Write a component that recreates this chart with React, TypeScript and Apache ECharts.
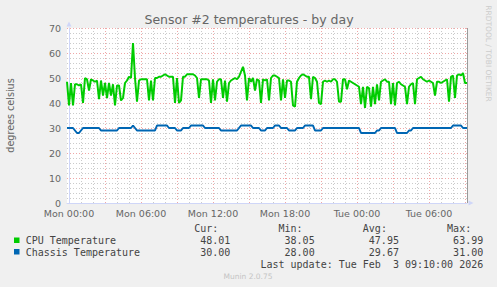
import React, { useEffect, useRef } from 'react';
import * as echarts from 'echarts';

// ---- data (5‑minute RRD samples read at 10‑minute spacing) ----
const startMinute = -10; // minutes relative to Mon 00:00 (Sun 23:50)
const stepMinutes = 10;
const endMinute = 1990; // Tue 09:10 (last update)

const cpuTemps = [
  48.5, 39, 48, 39, 47.5, 47.5, 47, 47.5, 40, 50,
  49.5, 45, 49.5, 49, 48.5, 49, 41.5, 49, 43, 48,
  42, 48, 43, 47.5, 39, 47, 47, 41, 42, 48,
  49, 50.5, 50, 64, 50, 40.5, 49, 49.5, 49.5, 49.5,
  49.5, 41, 49, 41, 50, 50, 50.5, 50.5, 51, 51.5,
  51, 50.5, 50.5, 50.5, 40, 50, 40, 41, 50.5, 50.5,
  51.5, 51.5, 51.5, 51.5, 51, 50, 42, 49.5, 49.5, 49.5,
  49.5, 49, 40, 49.5, 41, 48.5, 49.5, 49.5, 42, 49,
  40.5, 48, 49, 49.5, 50, 49.5, 50.5, 52.5, 54.5, 51,
  41, 50, 48.5, 50, 45, 49.5, 49, 40, 49.5, 49,
  49.5, 41, 50, 51, 51, 50.5, 50, 41, 49.5, 42,
  49, 49, 48.5, 39, 38.5, 48.5, 50, 51, 51.5, 51,
  50.5, 50.5, 41.5, 50.5, 50, 48.5, 40, 39.5, 48.5, 49,
  48.5, 49, 48.5, 49.5, 49.5, 48.5, 40.5, 40.5, 49.5, 49.5,
  45.5, 49, 48.5, 48, 47.5, 47, 46.5, 39.5, 46.5, 38,
  46.5, 46, 38.5, 46.5, 39.5, 47.5, 41, 48.5, 49, 49.5,
  48.5, 48.5, 39.5, 48, 39, 48, 48.5, 47.5, 47, 46.5,
  39.5, 46.5, 47.5, 48, 39.5, 49.5, 50, 50.5, 49.5, 49,
  48.5, 49, 48.5, 48, 43, 48.5, 48.5, 48, 48.5, 49,
  49.5, 40.5, 50.5, 51, 42, 51, 51.5, 51, 52, 48,
  48,
];

const chassisTemps = [
  30, 30, 30, 30, 29, 28, 28, 29, 30, 30,
  30, 30, 30, 30, 30, 30, 30, 29, 29, 29,
  29, 29, 29, 29, 29, 29, 30, 30, 30, 30,
  30, 30, 30, 31, 30, 29, 29, 29, 29, 29,
  29, 29, 29, 29, 29, 31, 31, 31, 31, 31,
  31, 30, 30, 30, 30, 29, 29, 29, 30, 30,
  30, 30, 31, 31, 31, 31, 31, 31, 31, 30,
  30, 30, 30, 30, 30, 30, 30, 29, 29, 29,
  29, 29, 29, 29, 29, 29, 30, 31, 31, 31,
  31, 31, 31, 30, 30, 30, 30, 29, 29, 29,
  30, 30, 30, 30, 31, 31, 31, 30, 30, 30,
  30, 29, 29, 29, 29, 30, 30, 30, 30, 31,
  31, 31, 31, 31, 29, 29, 29, 29, 30, 30,
  30, 30, 30, 30, 30, 30, 30, 30, 30, 30,
  30, 30, 30, 30, 30, 30, 30, 28, 28, 28,
  28, 28, 28, 28, 28, 29, 29, 30, 30, 30,
  30, 30, 30, 30, 30, 28, 28, 28, 28, 28,
  28, 29, 29, 30, 30, 30, 30, 30, 30, 30,
  30, 30, 30, 30, 30, 30, 30, 30, 30, 30,
  30, 30, 30, 31, 31, 31, 31, 31, 30, 30,
  30,
];

const xTickLabels = ['Mon 00:00', 'Mon 06:00', 'Mon 12:00', 'Mon 18:00', 'Tue 00:00', 'Tue 06:00'];
const xLabelEveryMinutes = 360;
const yMin = 0;
const yMax = 70;
const yStep = 10;

const seriesNames = ['CPU Temperature', 'Chassis Temperature'];
const seriesColors = ['#00CC00', '#0066B3'];
const statHeaders = ['Cur:', 'Min:', 'Avg:', 'Max:'];
const cpuStats = ['48.01', '38.05', '47.95', '63.99'];
const chassisStats = ['30.00', '28.00', '29.67', '31.00'];
const titleText = 'Sensor #2 temperatures - by day';
const yAxisTitle = 'degrees celsius';
const lastUpdateText = 'Last update: Tue Feb  3 09:10:00 2026';
const watermarkText = 'RRDTOOL / TOBI OETIKER';
const footerText = 'Munin 2.0.75';

// ---- styles ----
const W = 497;
const H = 287;
const FONT = '"DejaVu Sans", sans-serif';
const MONO = '"DejaVu Sans Mono", monospace';
const TEXT_COLOR = '#666666';
const LEGEND_COLOR = '#444444';
const MAJOR_GRID = 'rgba(224,80,80,0.5)';
const MINOR_GRID = 'rgba(140,140,140,0.45)';
const AXIS_COLOR = '#CFD6F8';

const toPairs = (vals: number[]) => vals.map((v, i) => [startMinute + i * stepMinutes, v]);

export default function App() {
  const ref = useRef<HTMLDivElement | null>(null);

  useEffect(() => {
    if (!ref.current) return;
    const chart = echarts.init(ref.current, undefined, { renderer: 'svg' });

    // split line colours cycle per 10-minute tick: major every 3h, minor every 1h
    const cycle: string[] = [];
    for (let k = 0; k < 18; k++) {
      if (k === 1) cycle.push(MAJOR_GRID);
      else if (k === 7 || k === 13) cycle.push(MINOR_GRID);
      else cycle.push('rgba(0,0,0,0)');
    }

    const colX = (c: number) => 25.7 + c * 6.02;
    const headerCols = [28, 42, 56, 70];
    const valueEndCols = [34, 48, 62, 76];
    const rowY = [240.5, 252];
    const mk = (text: string, x: number, y: number, extra: any = {}) => ({
      type: 'text',
      x,
      y,
      silent: true,
      style: {
        text,
        font: `10px ${MONO}`,
        fill: LEGEND_COLOR,
        align: 'left',
        verticalAlign: 'middle',
        textAlign: 'left',
        textVerticalAlign: 'middle',
        ...extra,
      },
    });

    const graphics: any[] = [
      {
        type: 'text',
        x: 249,
        y: 19,
        silent: true,
        style: {
          text: titleText,
          font: `12.5px ${FONT}`,
          fill: TEXT_COLOR,
          align: 'center',
          verticalAlign: 'middle',
          textAlign: 'center',
          textVerticalAlign: 'middle',
        },
      },
      {
        type: 'text',
        x: 10,
        y: 115.5,
        rotation: Math.PI / 2,
        silent: true,
        style: {
          text: yAxisTitle,
          font: `9.6px ${FONT}`,
          fill: TEXT_COLOR,
          align: 'center',
          verticalAlign: 'middle',
          textAlign: 'center',
          textVerticalAlign: 'middle',
        },
      },
      {
        type: 'text',
        x: 488.5,
        y: 53.5,
        rotation: -Math.PI / 2,
        silent: true,
        style: {
          text: watermarkText,
          font: `7.5px ${FONT}`,
          fill: '#CCCCCC',
          align: 'center',
          verticalAlign: 'middle',
          textAlign: 'center',
          textVerticalAlign: 'middle',
        },
      },
      {
        type: 'text',
        x: 248,
        y: 276.5,
        silent: true,
        style: {
          text: footerText,
          font: `7.5px ${FONT}`,
          fill: '#C4C4C4',
          align: 'center',
          verticalAlign: 'middle',
          textAlign: 'center',
          textVerticalAlign: 'middle',
        },
      },
    ];

    statHeaders.forEach((h, i) => graphics.push(mk(h, colX(headerCols[i]), 228.5)));
    const statRows = [cpuStats, chassisStats];
    seriesNames.forEach((name, r) => {
      graphics.push({
        type: 'rect',
        silent: true,
        shape: { x: 14, y: rowY[r] - 3, width: 5.5, height: 5.5 },
        style: { fill: seriesColors[r] },
      });
      graphics.push(mk(name, colX(0), rowY[r]));
      statRows[r].forEach((v, i) =>
        graphics.push(mk(v, colX(valueEndCols[i]), rowY[r], { align: 'right', textAlign: 'right' }))
      );
    });
    graphics.push(mk(lastUpdateText, colX(76), 264, { align: 'right', textAlign: 'right' }));

    const option: any = {
      animation: false,
      backgroundColor: '#F0F0F0',
      textStyle: { fontFamily: FONT },
      grid: {
        left: 67,
        top: 28,
        width: 400,
        height: 175,
        show: true,
        backgroundColor: '#FFFFFF',
        borderWidth: 0,
        containLabel: false,
        outerBoundsMode: 'none',
      },
      xAxis: {
        type: 'value',
        min: startMinute,
        max: endMinute,
        interval: stepMinutes,
        axisLine: {
          show: true,
          lineStyle: { color: AXIS_COLOR, width: 1 },
          symbol: ['none', 'triangle'],
          symbolSize: [5, 5],
          symbolOffset: [0, 4],
        },
        axisTick: { show: false },
        axisLabel: {
          color: TEXT_COLOR,
          fontSize: 9.5,
          lineHeight: 10,
          fontFamily: FONT,
          margin: 5,
          formatter: (v: number) => {
            const r = Math.round(v);
            if (r >= 0 && r % xLabelEveryMinutes === 0) {
              return xTickLabels[r / xLabelEveryMinutes] ?? '';
            }
            return '';
          },
        },
        splitLine: {
          show: true,
          lineStyle: { color: cycle, width: 1, type: [1, 2] },
        },
      },
      yAxis: {
        type: 'value',
        min: yMin,
        max: yMax,
        interval: yStep,
        axisLine: {
          show: true,
          lineStyle: { color: AXIS_COLOR, width: 1 },
          symbol: ['none', 'triangle'],
          symbolSize: [5, 5],
          symbolOffset: [0, 4],
        },
        axisTick: { show: false },
        axisLabel: { color: TEXT_COLOR, fontSize: 9.5, lineHeight: 9, fontFamily: FONT, margin: 6 },
        splitLine: { show: true, lineStyle: { color: MAJOR_GRID, width: 1, type: [1, 2] } },
        minorTick: { show: false, splitNumber: 5 },
        minorSplitLine: { show: true, lineStyle: { color: MINOR_GRID, width: 1, type: [1, 2] } },
      },
      series: [
        {
          name: seriesNames[0],
          type: 'line',
          data: toPairs(cpuTemps),
          showSymbol: false,
          symbol: 'none',
          lineStyle: { color: seriesColors[0], width: 2 },
          itemStyle: { color: seriesColors[0] },
          z: 3,
        },
        {
          name: seriesNames[1],
          type: 'line',
          data: toPairs(chassisTemps),
          showSymbol: false,
          symbol: 'none',
          lineStyle: { color: seriesColors[1], width: 2 },
          itemStyle: { color: seriesColors[1] },
          z: 4,
          markLine: {
            silent: true,
            symbol: ['none', 'none'],
            label: { show: false },
            lineStyle: { color: '#9A9A9A', width: 1, type: 'solid' },
            data: [{ xAxis: endMinute - 1 }],
          },
        },
      ],
      graphic: graphics,
    };

    chart.setOption(option);
    return () => chart.dispose();
  }, []);

  return (
    <div
      ref={ref}
      style={{ position: 'fixed', left: 0, top: 0, width: W, height: H }}
    />
  );
}
